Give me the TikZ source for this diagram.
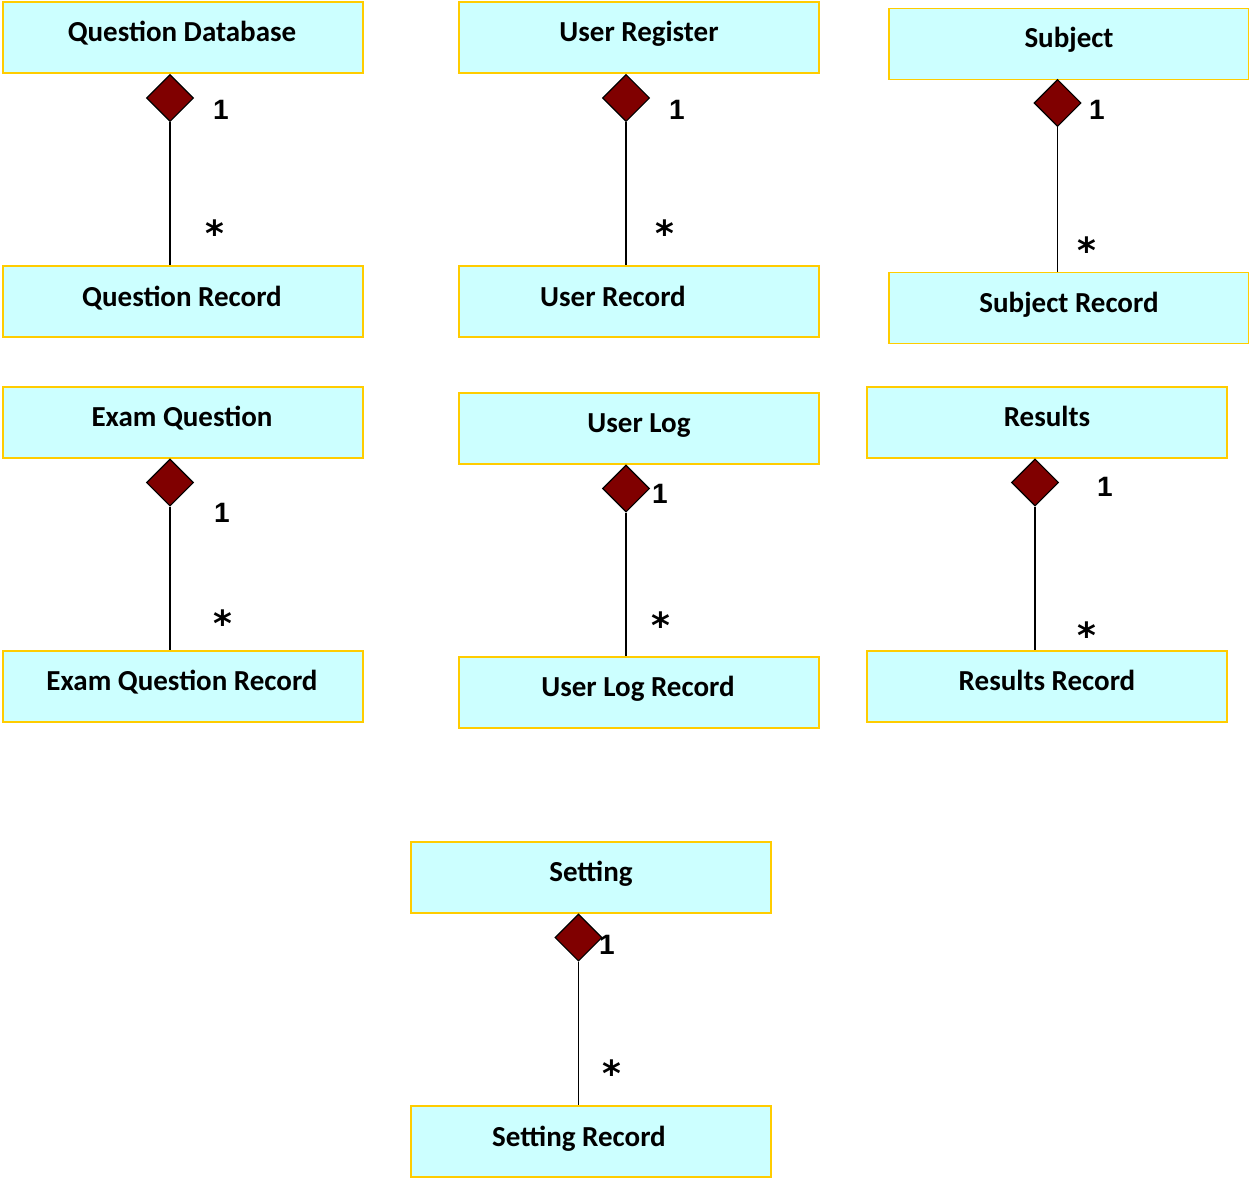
\documentclass[tikz,border=0pt]{standalone}
\usepackage{fontspec}
\setmainfont{Carlito}
\newfontfamily\labfont{Liberation Sans Bold}
\newfontfamily\starfont{DejaVu Sans Bold}
\usetikzlibrary{shapes.geometric}
\definecolor{boxfill}{HTML}{CCFFFF}
\definecolor{boxedge}{HTML}{FFCC00}
\definecolor{aggfill}{HTML}{800000}
\begin{document}
\begin{tikzpicture}[x=1pt,y=-1pt,
  classbox/.style={rectangle,draw=boxedge,fill=boxfill,line width=1.6pt,
    minimum width=360pt,minimum height=71pt,inner sep=0pt},
  classname/.style={anchor=base,font=\fontsize{29}{34}\selectfont\bfseries,inner sep=0pt},
  agg/.style={diamond,draw=black,fill=aggfill,line width=1.1pt,
    minimum width=47pt,minimum height=47pt,inner sep=0pt},
  link/.style={draw=black,line width=1.5pt},
  mult/.style={font={\labfont\fontsize{28}{30}\selectfont},inner sep=0pt},
  many/.style={font={\starfont\fontsize{36}{40}\selectfont},inner sep=0pt}]
\useasboundingbox (0,0) rectangle (1249,1184);

% ---- Question Database / Question Record
\node[classbox] (qdb) at (183,37.5) {};
\node[classname] (qdbt) at (182,41) {Question Database};
\node[classbox] (qr) at (183,301.5) {};
\node[classname] (qrt) at (182,306) {Question Record};
\node[agg] (qdbd) at (170,98) {};
\draw[link] (qdbd.south) -- (qdbd.south |- qr.north);
\node[mult] (qdb1) at (221,110) {1};
\node[many] (qdbs) at (215,233) {*};

% ---- User Register / User Record
\node[classbox] (ureg) at (639,37.5) {};
\node[classname] (uregt) at (639,41) {User Register};
\node[classbox] (urec) at (639,301.5) {};
\node[classname] (urect) at (613,306) {User Record};
\node[agg] (uregd) at (626,98) {};
\draw[link] (uregd.south) -- (uregd.south |- urec.north);
\node[mult] (ureg1) at (677,110) {1};
\node[many] (uregs) at (665,233) {*};

% ---- Subject / Subject Record
\node[classbox] (subj) at (1069,44) {};
\node[classname] (subjt) at (1069,47) {Subject};
\node[classbox] (srec) at (1069,308) {};
\node[classname] (srect) at (1069,312) {Subject Record};
\node[agg] (subjd) at (1057.5,103) {};
\draw[link] (subjd.south) -- (subjd.south |- srec.north);
\node[mult] (subj1) at (1097,110) {1};
\node[many] (subjs) at (1087,250) {*};

% ---- Exam Question / Exam Question Record
\node[classbox] (exq) at (183,422.5) {};
\node[classname] (exqt) at (182,426) {Exam Question};
\node[classbox] (exqr) at (183,686.5) {};
\node[classname] (exqrt) at (182,690) {Exam Question Record};
\node[agg] (exqd) at (170,482.5) {};
\draw[link] (exqd.south) -- (exqd.south |- exqr.north);
\node[mult] (exq1) at (222,513) {1};
\node[many] (exqs) at (223,623) {*};

% ---- User Log / User Log Record
\node[classbox] (ulog) at (639,428.5) {};
\node[classname] (ulogt) at (639,432) {User Log};
\node[classbox] (ulr) at (639,692.5) {};
\node[classname] (ulrt) at (638,696) {User Log Record};
\node[agg] (ulogd) at (626,488.5) {};
\draw[link] (ulogd.south) -- (ulogd.south |- ulr.north);
\node[mult] (ulog1) at (660,494) {1};
\node[many] (ulogs) at (661,625) {*};

% ---- Results / Results Record
\node[classbox] (res) at (1047,422.5) {};
\node[classname] (rest) at (1047,426) {Results};
\node[classbox] (resr) at (1047,686.5) {};
\node[classname] (resrt) at (1047,690) {Results Record};
\node[agg] (resd) at (1035,482.5) {};
\draw[link] (resd.south) -- (resd.south |- resr.north);
\node[mult] (res1) at (1105,487) {1};
\node[many] (ress) at (1087,635) {*};

% ---- Setting / Setting Record
\node[classbox] (set) at (591,877.5) {};
\node[classname] (sett) at (591,881) {Setting};
\node[classbox] (setr) at (591,1141.5) {};
\node[classname] (setrt) at (579,1146) {Setting Record};
\node[agg] (setd) at (578.5,937.5) {};
\draw[link] (setd.south) -- (setd.south |- setr.north);
\node[mult] (set1) at (607,945) {1};
\node[many] (sets) at (612,1073) {*};
\end{tikzpicture}
\end{document}
